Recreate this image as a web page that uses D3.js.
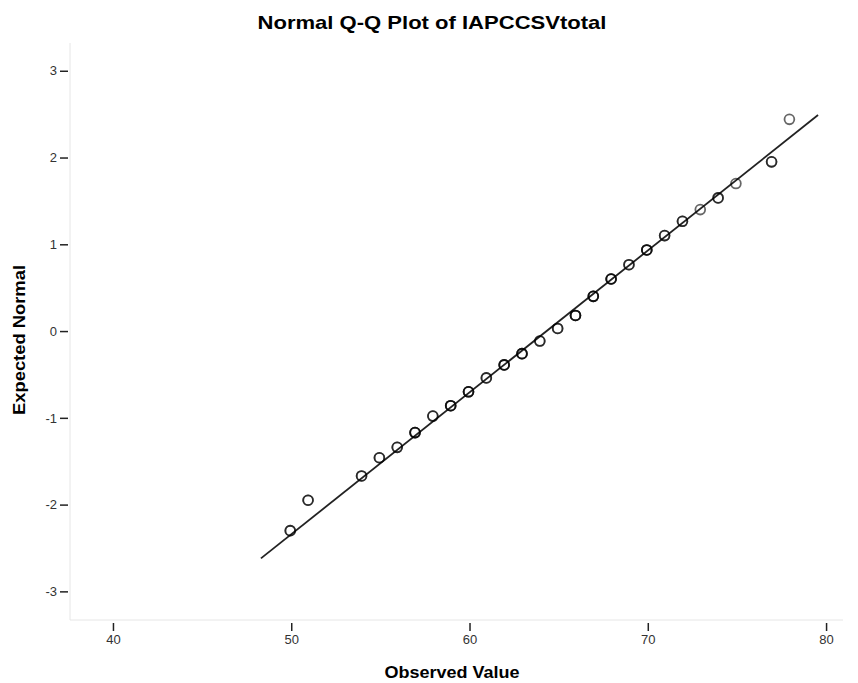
<!DOCTYPE html>
<html>
<head>
<meta charset="utf-8">
<script src="https://cdn.jsdelivr.net/npm/d3@7"></script>
<style>
  body { margin: 0; background: #fff; }
  svg { display: block; font-family: "Liberation Sans", Arial, sans-serif; }
</style>
</head>
<body>
<svg id="chart" width="858" height="683"></svg>
<script>
// observed values and their expected normal scores
const observed = [50, 51, 54, 55, 56, 57, 58, 59, 60, 61, 62, 63, 64, 65, 66, 67, 68, 69, 70, 71, 72, 73, 74, 75, 77, 78];
const expected = [-2.30, -1.95, -1.67, -1.46, -1.34, -1.17, -0.98, -0.86, -0.70, -0.54, -0.39, -0.26, -0.115, 0.03, 0.18, 0.40,
                  0.60, 0.765, 0.935, 1.10, 1.265, 1.40, 1.535, 1.70, 1.95, 2.44];
// number of tied cases at each value (approx.)
const counts = [2, 2, 2, 2, 2, 3, 2, 3, 3, 2, 3, 3, 2, 2, 3, 3, 3, 2, 3, 2, 2, 1, 2, 1, 2, 1];

// reference line end points
const lineX = [48.3, 79.55];
const lineY = [-2.62, 2.49];

const xTicks = [40, 50, 60, 70, 80];
const yTicks = [-3, -2, -1, 0, 1, 2, 3];

const width = 858, height = 683;
const margin = {top: 43, right: 15, bottom: 63, left: 70};

const svg = d3.select("#chart");

const x = d3.scaleLinear()
    .domain([37.59, 80.95])
    .range([margin.left, width - margin.right]);

const y = d3.scaleLinear()
    .domain([-3.33, 3.32])
    .range([height - margin.bottom, margin.top]);

// faint frame on left and bottom
svg.append("path")
    .attr("d", `M${margin.left},${margin.top}V${height - margin.bottom}H${width - margin.right}`)
    .attr("fill", "none")
    .attr("stroke", "#e6e6e6")
    .attr("stroke-width", 1);

// y axis
const yAxis = svg.append("g")
    .attr("transform", `translate(${margin.left - 2},0)`)
    .call(d3.axisLeft(y).tickValues(yTicks).tickSize(8).tickPadding(3).tickFormat(d => String(d)));
yAxis.select(".domain").remove();
yAxis.selectAll("line").attr("stroke", "#222").attr("stroke-width", 1.5);
yAxis.selectAll("text").attr("font-size", 13).attr("fill", "#333")
    .attr("font-family", "Liberation Sans, Arial, sans-serif");

// x axis
const xAxis = svg.append("g")
    .attr("transform", `translate(0,${height - margin.bottom + 3})`)
    .call(d3.axisBottom(x).tickValues(xTicks).tickSize(8).tickPadding(4).tickFormat(d => String(d)));
xAxis.select(".domain").remove();
xAxis.selectAll("line").attr("stroke", "#222").attr("stroke-width", 1.5);
xAxis.selectAll("text").attr("font-size", 13).attr("fill", "#333")
    .attr("font-family", "Liberation Sans, Arial, sans-serif");

// reference line
svg.append("line")
    .attr("x1", x(lineX[0])).attr("y1", y(lineY[0]))
    .attr("x2", x(lineX[1])).attr("y2", y(lineY[1]))
    .attr("stroke", "#222")
    .attr("stroke-width", 1.8);

// points, one circle per tied case
const pts = [];
observed.forEach((v, i) => {
    for (let k = 0; k < counts[i]; k++) pts.push({x: v, y: expected[i]});
});

svg.append("g")
    .selectAll("circle")
    .data(pts)
    .enter().append("circle")
    .attr("cx", d => x(d.x) - 1)
    .attr("cy", d => y(d.y))
    .attr("r", 4.9)
    .attr("fill", "none")
    .attr("stroke", "#000")
    .attr("stroke-opacity", 0.6)
    .attr("stroke-width", 1.8);

// titles
svg.append("text")
    .attr("x", 432).attr("y", 29)
    .attr("text-anchor", "middle")
    .attr("font-size", 19).attr("font-weight", "bold")
    .attr("textLength", 349).attr("lengthAdjust", "spacingAndGlyphs")
    .attr("fill", "#000")
    .text("Normal Q-Q Plot of IAPCCSVtotal");

svg.append("text")
    .attr("x", 452).attr("y", 678)
    .attr("text-anchor", "middle")
    .attr("font-size", 17).attr("font-weight", "bold")
    .attr("textLength", 135).attr("lengthAdjust", "spacingAndGlyphs")
    .attr("fill", "#000")
    .text("Observed Value");

svg.append("text")
    .attr("transform", "translate(25,340) rotate(-90)")
    .attr("text-anchor", "middle")
    .attr("font-size", 17).attr("font-weight", "bold")
    .attr("textLength", 150).attr("lengthAdjust", "spacingAndGlyphs")
    .attr("fill", "#000")
    .text("Expected Normal");
</script>
</body>
</html>
